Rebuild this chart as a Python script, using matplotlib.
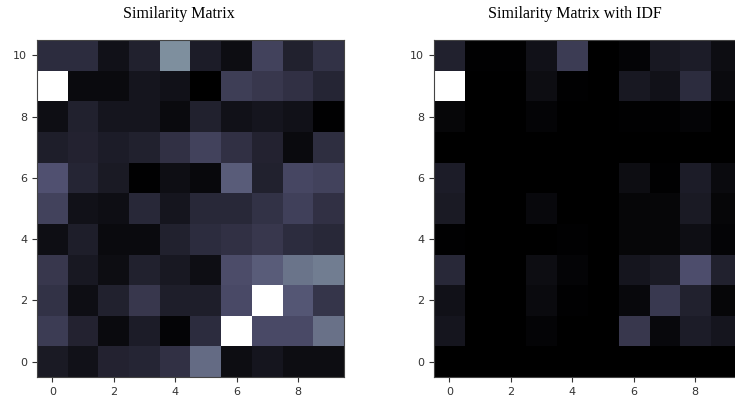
import matplotlib
matplotlib.use("Agg")
import matplotlib.pyplot as plt
import numpy as np

# rows listed from y=10 (top) down to y=0 (bottom), 10 columns each
sim_rows = [
    [0.20, 0.20, 0.08, 0.15, 0.57, 0.13, 0.06, 0.30, 0.15, 0.23],
    [1.00, 0.05, 0.05, 0.10, 0.08, 0.00, 0.28, 0.25, 0.22, 0.17],
    [0.07, 0.15, 0.10, 0.10, 0.05, 0.15, 0.08, 0.10, 0.08, 0.01],
    [0.14, 0.16, 0.13, 0.15, 0.22, 0.30, 0.22, 0.16, 0.05, 0.21],
    [0.36, 0.17, 0.12, 0.01, 0.07, 0.04, 0.40, 0.15, 0.32, 0.30],
    [0.30, 0.08, 0.07, 0.18, 0.10, 0.18, 0.18, 0.23, 0.29, 0.22],
    [0.07, 0.14, 0.05, 0.05, 0.15, 0.20, 0.22, 0.25, 0.20, 0.18],
    [0.25, 0.11, 0.06, 0.15, 0.11, 0.07, 0.34, 0.40, 0.48, 0.51],
    [0.23, 0.07, 0.15, 0.25, 0.14, 0.14, 0.33, 1.00, 0.38, 0.24],
    [0.27, 0.16, 0.05, 0.13, 0.02, 0.20, 1.00, 0.33, 0.33, 0.47],
    [0.12, 0.08, 0.16, 0.17, 0.22, 0.45, 0.06, 0.10, 0.06, 0.06],
]

idf_rows = [
    [0.15, 0.01, 0.01, 0.08, 0.27, 0.00, 0.02, 0.11, 0.13, 0.06],
    [1.00, 0.00, 0.00, 0.06, 0.01, 0.00, 0.11, 0.08, 0.20, 0.05],
    [0.03, 0.00, 0.00, 0.02, 0.00, 0.00, 0.01, 0.01, 0.02, 0.00],
    [0.00, 0.00, 0.00, 0.00, 0.00, 0.00, 0.00, 0.00, 0.00, 0.00],
    [0.13, 0.00, 0.00, 0.00, 0.00, 0.00, 0.06, 0.01, 0.13, 0.05],
    [0.12, 0.00, 0.00, 0.04, 0.00, 0.00, 0.03, 0.03, 0.12, 0.03],
    [0.01, 0.00, 0.00, 0.00, 0.01, 0.00, 0.03, 0.03, 0.07, 0.02],
    [0.18, 0.00, 0.00, 0.06, 0.02, 0.00, 0.10, 0.12, 0.35, 0.15],
    [0.08, 0.00, 0.00, 0.05, 0.01, 0.00, 0.04, 0.26, 0.15, 0.03],
    [0.10, 0.00, 0.00, 0.02, 0.00, 0.00, 0.25, 0.04, 0.13, 0.10],
    [0.00, 0.00, 0.00, 0.00, 0.00, 0.00, 0.00, 0.00, 0.00, 0.00],
]

titles = ["Similarity Matrix", "Similarity Matrix with IDF"]
title_x = [179, 575]

W, H = 735, 403
fig = plt.figure(figsize=(W / 100, H / 100), dpi=100)

lefts = [37, 434]
for i, rows in enumerate([sim_rows, idf_rows]):
    data = np.array(rows[::-1])
    ax = fig.add_axes([lefts[i] / W, 26 / H, 307 / W, 337 / H])
    ax.imshow(data, cmap="bone", origin="lower", vmin=0, vmax=1,
              aspect="auto", interpolation="nearest")
    ax.set_xticks([0, 2, 4, 6, 8])
    ax.set_yticks([0, 2, 4, 6, 8, 10])
    ax.tick_params(labelsize=8, colors="#333333", length=3.5)
    for sp in ax.spines.values():
        sp.set_color("#444444")
    fig.text(title_x[i] / W, 1 - 14 / H, titles[i], ha="center", va="center",
             family="Liberation Serif", fontsize=11.5)

fig.savefig("out.png", dpi=100)
